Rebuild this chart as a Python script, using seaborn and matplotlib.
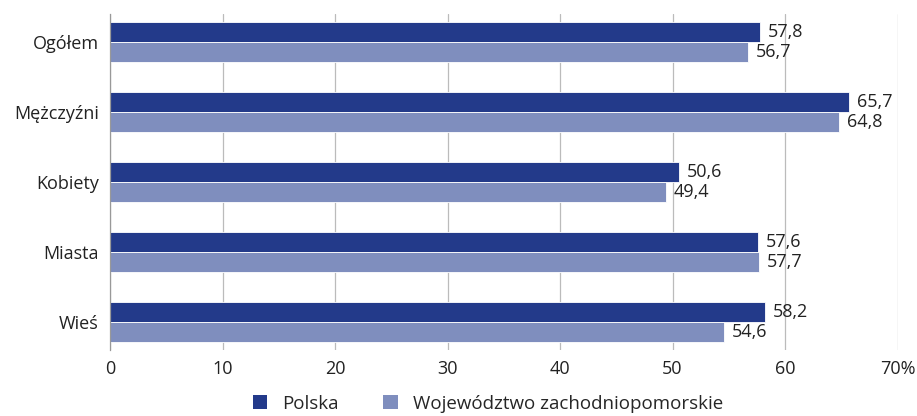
import matplotlib
matplotlib.use("Agg")
import matplotlib.pyplot as plt
import seaborn as sns
import pandas as pd
from matplotlib.patches import Patch

categories = ["Ogółem", "Mężczyźni", "Kobiety", "Miasta", "Wieś"]
series_names = ["Polska", "Województwo zachodniopomorskie"]
polska = [57.8, 65.7, 50.6, 57.6, 58.2]
zachodniopomorskie = [56.7, 64.8, 49.4, 57.7, 54.6]
x_ticks = [0, 10, 20, 30, 40, 50, 60, 70]
x_tick_labels = ["0", "10", "20", "30", "40", "50", "60", "70%"]
colors = ["#233A8A", "#7F8EBE"]

sns.set_theme(style="white")
plt.rcParams["font.family"] = ["Open Sans", "DejaVu Sans"]

df = pd.DataFrame({
    "cat": categories * 2,
    "val": polska + zachodniopomorskie,
    "series": [series_names[0]] * len(categories) + [series_names[1]] * len(categories),
})

fig = plt.figure(figsize=(9.17, 4.16), dpi=100)
ax = fig.add_axes([110 / 917, 1 - 350 / 416, (897.5 - 110) / 917, (350 - 14) / 416])

sns.barplot(data=df, y="cat", x="val", hue="series", orient="h", palette=colors,
            width=0.58, ax=ax, legend=False, edgecolor="white", linewidth=0.6,
            saturation=1)

for cont in ax.containers:
    labels = [f"{v:.1f}".replace(".", ",") for v in cont.datavalues]
    ax.bar_label(cont, labels=labels, padding=5.5, fontsize=13, color="#222222")

ax.set_xlim(0, 70)
ax.set_ylim(4.4, -0.4)
ax.set_xticks(x_ticks)
ax.set_xticklabels(x_tick_labels, fontsize=13, color="#222222")
ax.tick_params(axis="y", labelsize=13, labelcolor="#222222", length=0, pad=8)
ax.tick_params(axis="x", length=0, pad=7)
ax.set_xlabel("")
ax.set_ylabel("")
ax.grid(axis="x", color="#BBBBBB", linewidth=0.9)
ax.set_axisbelow(True)
for s in ["top", "right", "bottom"]:
    ax.spines[s].set_visible(False)
ax.spines["left"].set_color("#999999")
ax.spines["left"].set_linewidth(0.9)

handles = [Patch(facecolor=c, edgecolor="none") for c in colors]
fig.legend(handles, series_names, loc="center", bbox_to_anchor=(0.532, 0.03), ncol=2,
           frameon=False, fontsize=13.5, handlelength=0.75, handleheight=0.75,
           columnspacing=2.4, handletextpad=0.8)

fig.savefig("out.png", dpi=100)
